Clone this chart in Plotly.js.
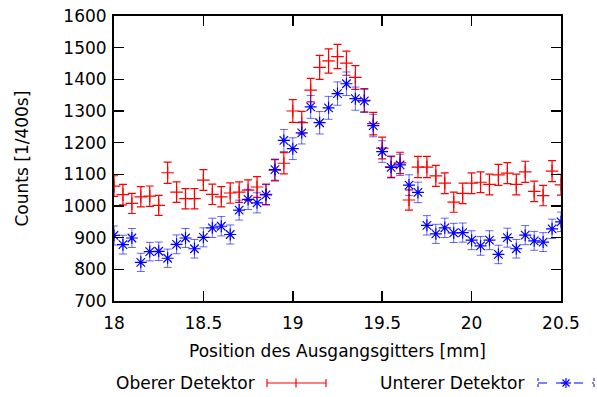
<!DOCTYPE html>
<html>
<head>
<meta charset="utf-8">
<script src="https://cdn.plot.ly/plotly-3.0.1.min.js"></script>
<style>html,body{margin:0;padding:0;background:#fff;}#chart{width:597px;height:397px;}</style>
</head>
<body>
<div id="chart"></div>
<script>
// Positions of the exit grating [mm]
const positions = [18.00,18.05,18.10,18.15,18.20,18.25,18.30,18.35,18.40,18.45,
  18.50,18.55,18.60,18.65,18.70,18.75,18.80,18.85,18.90,18.95,
  19.00,19.05,19.10,19.15,19.20,19.25,19.30,19.35,19.40,19.45,
  19.50,19.55,19.60,19.65,19.70,19.75,19.80,19.85,19.90,19.95,
  20.00,20.05,20.10,20.15,20.20,20.25,20.30,20.35,20.40,20.45,20.50];

// Oberer Detektor counts [1/400s]
const oberer = [1063,1036,1008,1029,1031,1002,1105,1044,1023,1023,
  1082,1037,1029,1041,1044,1050,1060,1037,1113,1135,
  1300,1263,1366,1438,1458,1472,1451,1406,1334,1260,
  1183,1124,1136,1019,1123,1123,1095,1072,1012,1040,
  1072,1075,1068,1098,1104,1068,1108,1046,1033,1110,1067];

// Unterer Detektor counts [1/400s]
const unterer = [907,878,899,822,856,857,835,879,899,865,
  901,931,936,910,987,1021,1010,1035,1115,1207,
  1181,1231,1313,1263,1310,1355,1386,1339,1332,1254,
  1172,1122,1130,1066,1043,939,912,931,915,916,
  892,874,892,847,900,865,908,890,886,928,950];

const xTicks = [18, 18.5, 19, 19.5, 20, 20.5];
const seriesNames = ['Oberer Detektor', 'Unterer Detektor'];

const FONT = 'DejaVu Sans';
const FS = 17;
const W = 597, H = 397;
function px(x){ return x / W; }
function py(y){ return 1 - y / H; }

const traces = [
  {
    x: positions, y: oberer, type: 'scatter', mode: 'markers', name: seriesNames[0],
    marker: {symbol: 'cross-thin-open', size: 9, color: '#ff0000', line: {color: '#ff0000', width: 1.2}},
    error_y: {type: 'sqrt', visible: true, color: '#ff0000', thickness: 1.2, width: 4}
  },
  {
    x: positions, y: unterer, type: 'scatter', mode: 'markers', name: seriesNames[1],
    marker: {symbol: 'asterisk-open', size: 10, color: '#0000ff', line: {color: '#0000ff', width: 1.2}},
    error_y: {type: 'sqrt', visible: true, color: 'rgba(0,0,255,0.6)', thickness: 1, width: 4}
  }
];

function seg(x0,y0,x1,y1,color,dash,width){
  return {type:'line', xref:'paper', yref:'paper', x0:px(x0), y0:py(y0), x1:px(x1), y1:py(y1),
    line:{color:color, width:width||1.2, dash:dash||'solid'}};
}

const LY = 383;
const shapes = [
  // red legend sample
  seg(267,LY,326,LY,'#ff0000'),
  seg(267,LY-4,267,LY+4,'#ff0000'),
  seg(326,LY-4,326,LY+4,'#ff0000'),
  seg(296,LY-4.5,296,LY+4.5,'#ff0000'),
  // blue legend sample
  seg(538,LY,594,LY,'#0000ff','dash',1),
  seg(538,LY-5,538,LY+5,'#0000ff','dot',1),
  seg(594,LY-5,594,LY+5,'#0000ff','dot',1),
  seg(561,LY,571,LY,'#0000ff','solid',1.2),
  seg(566,LY-5,566,LY+5,'#0000ff','solid',1.2),
  seg(562.5,LY-3.5,569.5,LY+3.5,'#0000ff','solid',1.2),
  seg(562.5,LY+3.5,569.5,LY-3.5,'#0000ff','solid',1.2)
];

const annotations = [
  {text: 'Position des Ausgangsgitters [mm]', xref:'paper', yref:'paper', x: px(337.5), y: py(351),
   xanchor:'center', yanchor:'middle', showarrow:false, font:{family:FONT, size:FS, color:'#000'}},
  {text: 'Counts [1/400s]', xref:'paper', yref:'paper', x: px(22), y: py(158.5), textangle:-90,
   xanchor:'center', yanchor:'middle', showarrow:false, font:{family:FONT, size:FS, color:'#000'}},
  {text: seriesNames[0], xref:'paper', yref:'paper', x: px(257), y: py(LY),
   xanchor:'right', yanchor:'middle', showarrow:false, font:{family:FONT, size:FS, color:'#000'}},
  {text: seriesNames[1], xref:'paper', yref:'paper', x: px(526), y: py(LY),
   xanchor:'right', yanchor:'middle', showarrow:false, font:{family:FONT, size:FS, color:'#000'}}
];

const axisCommon = {
  showline: true, linecolor: '#000', linewidth: 2, mirror: 'ticks',
  ticks: 'inside', ticklen: 10, tickwidth: 1.5, tickcolor: '#000',
  showgrid: false, zeroline: false, automargin: false, fixedrange: true,
  tickfont: {family: FONT, size: FS, color: '#000'}
};

const layout = {
  width: W, height: H,
  margin: {l:0, r:0, t:0, b:0},
  paper_bgcolor: '#fff', plot_bgcolor: '#fff',
  showlegend: false,
  xaxis: Object.assign({}, axisCommon, {
    domain: [114/W, 561/W], range: [18, 20.5], tickvals: xTicks, ticklabelstandoff: 6
  }),
  yaxis: Object.assign({}, axisCommon, {
    domain: [1-301/H, 1-16/H], range: [700, 1600], dtick: 100, tick0: 700, ticklabelstandoff: 2
  }),
  shapes: shapes,
  annotations: annotations
};

Plotly.newPlot('chart', traces, layout, {displayModeBar: false, staticPlot: true});
</script>
</body>
</html>
